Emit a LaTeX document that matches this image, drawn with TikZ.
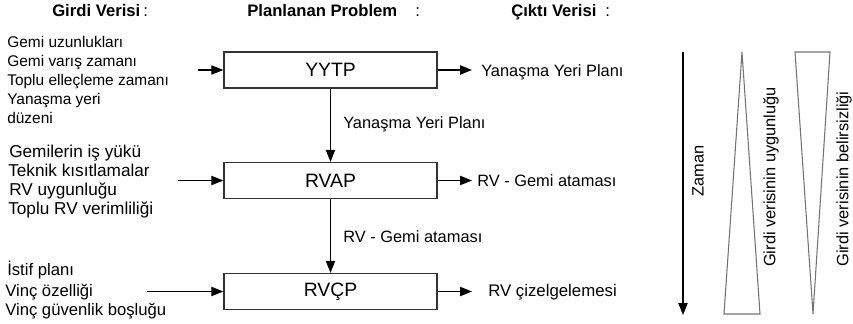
\documentclass[tikz,border=0pt]{standalone}
\usepackage{fontspec}
\setmainfont{Liberation Sans}[BoldFont={Liberation Sans Bold}]
\usetikzlibrary{arrows.meta}
\begin{document}
\begin{tikzpicture}[x=0.75pt,y=-0.75pt,
  lbl/.style={anchor=base west, inner sep=0pt, font=\fontsize{12.3}{14}\selectfont},
  lblA/.style={lbl, font=\fontsize{11.6}{13}\selectfont},
  lblB/.style={lbl, font=\fontsize{12.9}{14}\selectfont},
  lblC/.style={lbl, font=\fontsize{12.5}{14}\selectfont},
  hdr/.style={anchor=base west, inner sep=0pt, font=\fontsize{12.5}{14}\selectfont\bfseries},
  colon/.style={anchor=base west, inner sep=0pt, font=\fontsize{12.5}{14}\selectfont},
  rlbl/.style={rotate=90, inner sep=0pt, font=\fontsize{12.3}{14}\selectfont},
  pbox/.style={draw=black!80, line width=1pt, minimum width=159.75pt, minimum height=27pt, inner sep=0pt, font=\fontsize{14.5}{16}\selectfont},
  conn/.style={-{Triangle[length=9pt,width=7pt]}, line width=0.8pt},
  tri/.style={draw=black!55, line width=0.8pt},
]
\useasboundingbox (0,0) rectangle (853,324);

% headers
\node[hdr] (h1) at (52,17) {Girdi Verisi};
\node[colon] (h1c) at (143,17) {:};
\node[hdr] (h2) at (247,17) {Planlanan Problem};
\node[colon] (h2c) at (415,17) {:};
\node[hdr] (h3) at (511,17) {Çıktı Verisi};
\node[colon] (h3c) at (605,17) {:};

% boxes
\node[pbox] (yytp) at (330.5,70) {YYTP};
\node[pbox] (rvap) at (330.5,180.5) {RVAP};
\node[pbox] (rvcp) at (330.5,291.5) {RVÇP};

% inputs
\node[lblA] (a1) at (7,48) {Gemi uzunlukları};
\node[lblA] (a2) at (7,66.5) {Gemi varış zamanı};
\node[lblA] (a3) at (7,85.5) {Toplu elleçleme zamanı};
\node[lblA] (a4) at (7,105) {Yanaşma yeri};
\node[lblA] (a5) at (7,124) {düzeni};

\node[lblB] (b1) at (9,157.5) {Gemilerin iş yükü};
\node[lblB] (b2) at (8,176.5) {Teknik kısıtlamalar};
\node[lblB] (b3) at (9,195.5) {RV uygunluğu};
\node[lblB] (b4) at (8,214.5) {Toplu RV verimliliği};

\node[lblC] (c1) at (7,275) {İstif planı};
\node[lblC] (c2) at (5,296) {Vinç özelliği};
\node[lblC] (c3) at (5,315.5) {Vinç güvenlik boşluğu};

\coordinate (i1) at (198,70);
\coordinate (i2) at (178,180.5);
\coordinate (i3) at (147,291.5);
\draw[conn] (i1) -- (yytp.west);
\draw[conn] (i2) -- (rvap.west);
\draw[conn] (i3) -- (rvcp.west);

% outputs
\coordinate (o1) at (472,70);
\coordinate (o2) at (472,180.5);
\coordinate (o3) at (472,291.5);
\draw[conn] (yytp.east) -- (o1);
\draw[conn] (rvap.east) -- (o2);
\draw[conn] (rvcp.east) -- (o3);
\node[lbl] (ol1) at (481,77) {Yanaşma Yeri Planı};
\node[lbl] (ol2) at (477,187) {RV - Gemi ataması};
\node[lbl,font=\fontsize{12.6}{14}\selectfont] (ol3) at (488,296) {RV çizelgelemesi};

% vertical links
\draw[conn] (yytp.south) -- (rvap.north);
\draw[conn] (rvap.south) -- (rvcp.north);
\node[lbl] (m1) at (343,129) {Yanaşma Yeri Planı};
\node[lbl] (m2) at (343,242) {RV - Gemi ataması};

% right part
\coordinate (z1) at (683,52);
\coordinate (z2) at (683,315);
\draw[conn] (z1) -- (z2);
\node[rlbl] (zt) at (698,171) {Zaman};

\draw[tri] (742,52) -- (760,314) -- (724,314) -- cycle;
\draw[tri] (795,52) -- (830,52) -- (813,314) -- cycle;
\node[rlbl] (t1) at (771,177) {Girdi verisinin uygunluğu};
\node[rlbl] (t2) at (844,179) {Girdi verisinin belirsizliği};
\end{tikzpicture}
\end{document}
